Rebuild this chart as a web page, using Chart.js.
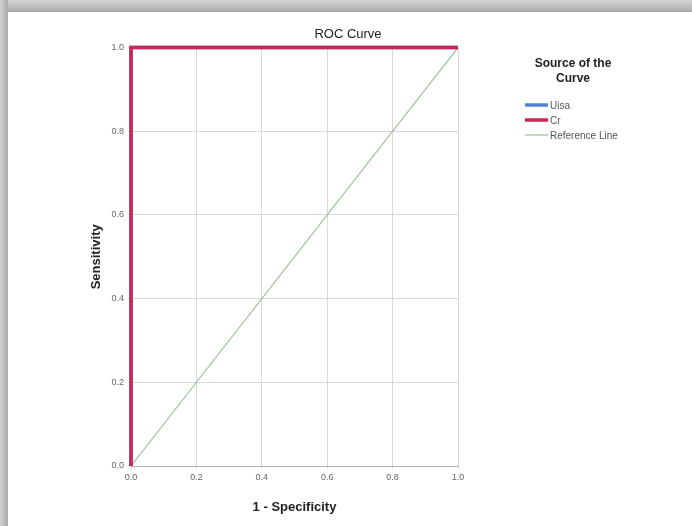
<!DOCTYPE html>
<html><head><meta charset="utf-8">
<script src="https://cdn.jsdelivr.net/npm/chart.js@4/dist/chart.umd.min.js"></script>
<style>
html,body{margin:0;padding:0;background:#fff;}
#wrap{position:relative;width:692px;height:526px;overflow:hidden;background:#fff;}
#topShade{position:absolute;left:0;top:0;width:692px;height:12px;background:linear-gradient(to bottom,#d4d4d4,#a9a9a9);}
#leftShade{position:absolute;left:0;top:0;width:8px;height:526px;background:linear-gradient(to right,#d4d4d4,#a9a9a9);}
canvas{position:absolute;left:0;top:0;}
</style></head>
<body><div id="wrap"><div id="topShade"></div><div id="leftShade"></div><canvas id="c" width="692" height="526"></canvas></div>
<script>
const chartTitle = "ROC Curve";
const xTitle = "1 - Specificity";
const yTitle = "Sensitivity";
const legendTitle = ["Source of the", "Curve"];
const tickValues = [0, 0.2, 0.4, 0.6, 0.8, 1.0];
const seriesNames = ["Uisa", "Cr", "Reference Line"];
const uisaFpr = [0, 0, 1];
const uisaTpr = [0, 1, 1];
const crFpr = [0, 0, 1];
const crTpr = [0, 1, 1];
const refFpr = [0, 1];
const refTpr = [0, 1];

const FONT = '"Liberation Sans", Arial, sans-serif';
const toPts = (xs, ys) => xs.map((x, i) => ({x: x, y: ys[i]}));
const colors = ["#4f80d4", "#cc2652", "#9cbf9c"];
const widths = [3.5, 3.5, 1.2];

const legendPlugin = {
  id: 'sideLegend',
  afterDraw(chart) {
    const ctx = chart.ctx;
    ctx.save();
    ctx.fillStyle = '#222';
    ctx.font = 'bold 12px ' + FONT;
    ctx.textAlign = 'center';
    ctx.textBaseline = 'middle';
    legendTitle.forEach((t, i) => ctx.fillText(t, 573, 64 + i * 15));
    ctx.font = '10px ' + FONT;
    ctx.textAlign = 'left';
    chart.data.datasets.forEach((ds, i) => {
      const y = 105 + i * 15;
      ctx.strokeStyle = ds.borderColor;
      ctx.lineWidth = ds.borderWidth;
      ctx.beginPath(); ctx.moveTo(525, y); ctx.lineTo(548, y); ctx.stroke();
      ctx.fillStyle = '#555';
      ctx.fillText(ds.label, 550, y + 1);
    });
    ctx.restore();
  }
};

new Chart(document.getElementById('c'), {
  type: 'line',
  data: {
    datasets: [
      {label: seriesNames[0], data: toPts(uisaFpr, uisaTpr), borderColor: colors[0], borderWidth: widths[0], pointRadius: 0, order: 3, clip: false},
      {label: seriesNames[1], data: toPts(crFpr, crTpr), borderColor: colors[1], borderWidth: widths[1], pointRadius: 0, order: 1, clip: false},
      {label: seriesNames[2], data: toPts(refFpr, refTpr), borderColor: colors[2], borderWidth: widths[2], pointRadius: 0, order: 2, clip: false}
    ]
  },
  options: {
    responsive: false,
    animation: false,
    layout: {padding: {left: 84, right: 80, top: 27, bottom: 0}},
    plugins: {
      legend: {display: false},
      tooltip: {enabled: false},
      title: {display: true, text: chartTitle, color: '#222', font: {family: FONT, size: 13, weight: 'normal'}, padding: {top: 0, bottom: 5}}
    },
    scales: {
      x: {
        type: 'linear', min: 0, max: 1,
        afterBuildTicks: s => { s.ticks = tickValues.map(v => ({value: v})); },
        afterFit: s => { s.height = 60; },
        ticks: {callback: v => v.toFixed(1), color: '#666', font: {family: FONT, size: 9}, padding: 3, maxRotation: 0},
        grid: {color: '#d9d9d9', tickLength: 3, lineWidth: 1},
        border: {color: '#b5b5b5'},
        title: {display: true, text: xTitle, color: '#222', font: {family: FONT, size: 13, weight: 'bold'}, padding: {top: 4, bottom: 11}}
      },
      y: {
        type: 'linear', min: 0, max: 1,
        afterBuildTicks: s => { s.ticks = tickValues.map(v => ({value: v})); },
        afterFit: s => { s.width = 47; },
        ticks: {callback: v => v.toFixed(1), color: '#666', font: {family: FONT, size: 9}, padding: 4},
        grid: {color: '#d9d9d9', tickLength: 3, lineWidth: 1},
        border: {color: '#b5b5b5'},
        title: {display: true, text: yTitle, color: '#222', font: {family: FONT, size: 13, weight: 'bold'}, padding: {top: 5, bottom: 4}}
      },
      spacer: {
        type: 'linear', position: 'right', display: true,
        afterFit: s => { s.width = 154; },
        ticks: {display: false},
        grid: {display: false, drawTicks: false},
        border: {display: false}
      }
    }
  },
  plugins: [legendPlugin]
});
</script></body></html>
